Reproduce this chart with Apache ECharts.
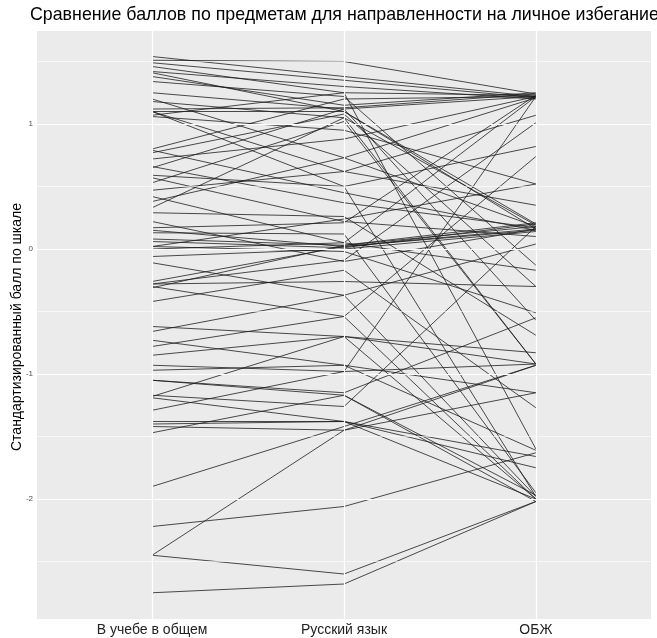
<!DOCTYPE html>
<html>
<head>
<meta charset="utf-8">
<script src="https://cdn.jsdelivr.net/npm/echarts@6/dist/echarts.min.js"></script>
<style>
  html, body { margin: 0; padding: 0; background: #ffffff; }
  #chart { width: 657px; height: 638px; }
</style>
</head>
<body>
<div id="chart"></div>
<script>
// Subjects shown along the horizontal axis
const subjects = ['В учебе в общем', 'Русский язык', 'ОБЖ'];

// Standardized scale scores per student, one entry per student in each array
const scoreGeneral = [1.54, 1.51, 1.49, 1.46, 1.42, 1.41, 1.38, 1.34, 1.25, 1.20, 1.18, 1.12, 1.10, 1.10, 1.07, 1.06,
  0.80, 0.79, 0.77, 0.72, 0.66, 0.65, 0.59, 0.57, 0.53, 0.47, 0.42, 0.38, 0.33, 0.29, 0.22, 0.17, 0.15, 0.13, 0.08, 0.06, 0.02, 0.00,
  -0.06, -0.11, -0.26, -0.28, -0.30, -0.31, -0.42, -0.62, -0.66, -0.73, -0.78, -0.85, -0.93, -0.97, -1.05, -1.17, -1.18, -1.19,
  -1.29, -1.38, -1.40, -1.42, -1.47, -1.90, -2.22, -2.45, -2.45, -2.75, 1.10, -0.28, 0.02, -1.05];
const scoreRussian = [1.38, 1.50, 1.35, 1.25, 1.30, 1.10, 1.15, 1.22, 1.12, 0.73, 1.05, 1.13, 1.10, 0.62, 1.25, 0.95,
  1.20, 0.45, 1.08, 0.88, 0.37, 1.12, 0.50, 0.22, 1.02, 0.62, 0.05, 0.73, 1.05, 0.26, -0.10, 0.21, 0.02, 0.12, 0.03, 0.01, -0.02, 0.05,
  0.00, -0.37, 0.02, -0.09, -0.54, 0.03, -0.17, -0.70, -0.37, -0.93, -0.54, -0.70, -0.98, -0.93, -1.17, -1.26, -0.70, -1.38,
  -0.98, -1.38, -1.38, -1.45, -1.17, -1.42, -2.06, -1.45, -2.60, -2.68, 0.50, -0.26, 0.24, -1.15];
const scoreObzh = [1.22, 1.24, 1.21, 1.23, 1.20, 0.16, 1.25, -0.13, 1.22, 0.18, -0.92, 1.24, 0.20, 1.07, -1.60, 0.52,
  1.22, 0.15, -0.30, 1.22, 0.17, -0.57, 0.82, 0.10, -0.92, 0.35, -0.17, 1.21, 0.19, -0.69, 0.16, 1.23, 0.15, -1.95, 0.18, 0.20, -0.51, 1.22,
  0.14, -1.98, 0.16, 1.01, -2.00, 0.21, -1.27, -0.83, 0.04, -1.15, 0.74, -2.00, -0.92, -1.61, -1.97, 0.18, -0.92, -1.75,
  1.22, -2.00, -1.66, -0.93, -2.02, -0.93, -1.63, -1.15, -2.02, -2.02, -1.98, -0.30, 0.52, -0.55];

// Tick values for the score axis
const scoreTicks = [-2, -1, 0, 1];
const scoreGridMinor = [-2.5, -1.5, -0.5, 0.5, 1.5];

const chart = echarts.init(document.getElementById('chart'), null, { renderer: 'canvas' });

// One polyline per student across the three subjects
const studentSeries = scoreGeneral.map((v, i) => ({
  type: 'line',
  data: [[0, v], [1, scoreRussian[i]], [2, scoreObzh[i]]],
  symbol: 'none',
  silent: true,
  z: 3,
  lineStyle: { color: '#1a1a1a', width: 1, opacity: 0.78 },
  animation: false
}));

// Panel grid lines (white on grey, ggplot-style)
const gridSeries = {
  type: 'line',
  data: [],
  z: 1,
  silent: true,
  markLine: {
    silent: true,
    symbol: 'none',
    animation: false,
    label: { show: false },
    data: [
      ...scoreGridMinor.map(v => ({ yAxis: v, lineStyle: { color: '#ffffff', width: 0.6, type: 'solid' } })),
      ...scoreTicks.map(v => ({ yAxis: v, lineStyle: { color: '#ffffff', width: 1.2, type: 'solid' } })),
      ...subjects.map((s, i) => ({ xAxis: i, lineStyle: { color: '#ffffff', width: 1.2, type: 'solid' } }))
    ]
  }
};

chart.setOption({
  animation: false,
  backgroundColor: '#ffffff',
  title: {
    text: 'Сравнение баллов по предметам для направленности на личное избегание',
    left: 30,
    top: 6,
    padding: 0,
    textStyle: { fontFamily: 'Liberation Sans, Arial, sans-serif', fontSize: 17.8, fontWeight: 'normal', color: '#000000' }
  },
  grid: {
    left: 37, right: 6, top: 31, bottom: 19,
    show: true, backgroundColor: '#EBEBEB', borderWidth: 0
  },
  xAxis: {
    type: 'value',
    min: -0.6, max: 2.6,
    axisLine: { show: false },
    splitLine: { show: false },
    axisTick: { show: true, customValues: [0, 1, 2], length: 3, lineStyle: { color: '#333333', width: 1 } },
    axisLabel: {
      customValues: [0, 1, 2],
      formatter: v => subjects[Math.round(v)] || '',
      margin: 4,
      fontFamily: 'Liberation Sans, Arial, sans-serif',
      fontSize: 14,
      color: '#222222'
    }
  },
  yAxis: {
    type: 'value',
    min: -2.96, max: 1.744,
    axisLine: { show: false },
    splitLine: { show: false },
    axisTick: { show: true, customValues: scoreTicks, length: 3, lineStyle: { color: '#333333', width: 1 } },
    axisLabel: {
      customValues: scoreTicks,
      formatter: v => String(Math.round(v)),
      margin: 4,
      fontFamily: 'Liberation Sans, Arial, sans-serif',
      fontSize: 8,
      color: '#4D4D4D'
    }
  },
  graphic: [{
    type: 'text',
    x: 17, y: 327,
    rotation: Math.PI / 2,
    style: {
      text: 'Стандартизированный балл по шкале',
      fontFamily: 'Liberation Sans, Arial, sans-serif',
      fontSize: 14,
      fill: '#000000',
      align: 'center',
      verticalAlign: 'middle'
    }
  }],
  series: [gridSeries, ...studentSeries]
});
</script>
</body>
</html>
